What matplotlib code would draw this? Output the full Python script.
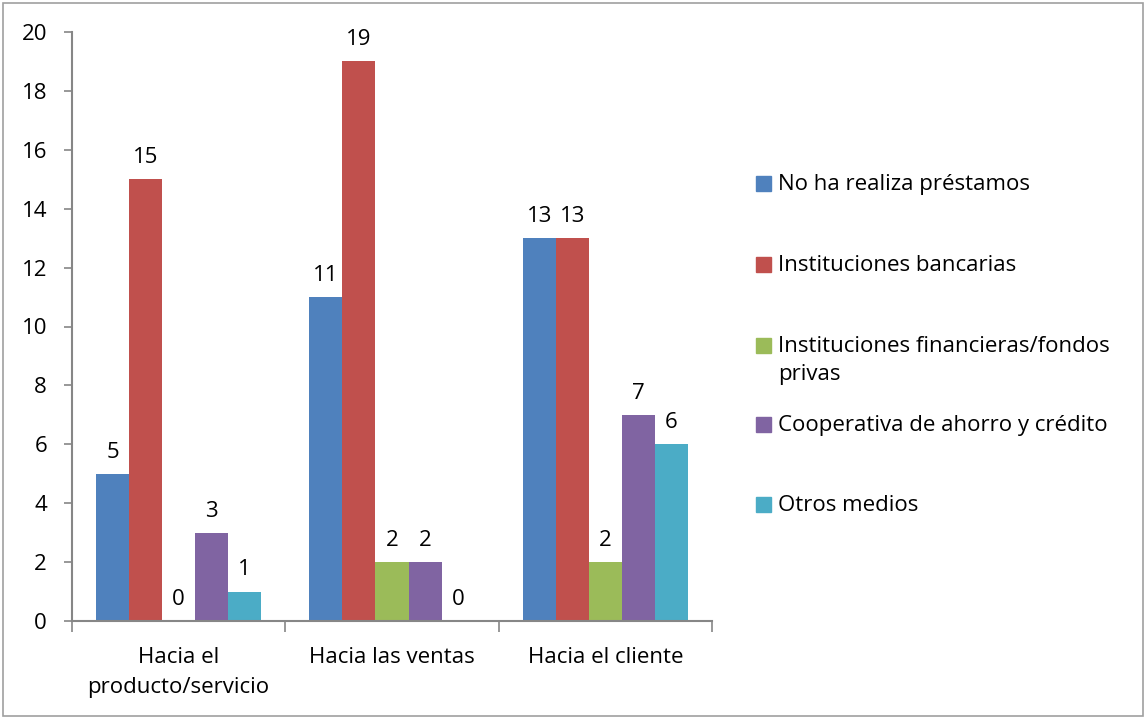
import matplotlib
matplotlib.use("Agg")
import matplotlib.pyplot as plt
from matplotlib.patches import Rectangle
import numpy as np

categories = ["Hacia el\nproducto/servicio", "Hacia las ventas", "Hacia el cliente"]
series_names = ["No ha realiza préstamos", "Instituciones bancarias",
                "Instituciones financieras/fondos\nprivas",
                "Cooperativa de ahorro y crédito", "Otros medios"]
values = [
    [5, 11, 13],
    [15, 19, 13],
    [0, 2, 2],
    [3, 2, 7],
    [1, 0, 6],
]
colors = ["#4F81BD", "#C0504D", "#9BBB59", "#8064A2", "#4BACC6"]
yticks = [0, 2, 4, 6, 8, 10, 12, 14, 16, 18, 20]

plt.rcParams['font.family'] = ['Open Sans', 'DejaVu Sans']
FS = 16

fig = plt.figure(figsize=(11.46, 7.19), dpi=100)
ax = fig.add_axes([72/1146, 1-621/719, 640/1146, 589/719])

n = len(series_names)
bw = 0.155
x = np.arange(len(categories))
for i, (name, vals, c) in enumerate(zip(series_names, values, colors)):
    pos = x + (i - (n-1)/2) * bw
    bars = ax.bar(pos, vals, width=bw, color=c, label=name)
    for xp, v in zip(pos, vals):
        ax.annotate(str(v), (xp, v), xytext=(0, 8), textcoords="offset points",
                    ha="center", va="bottom", fontsize=FS, color="black")

ax.set_xlim(-0.5, len(categories) - 0.5)
ax.set_ylim(0, 20)
ax.set_yticks(yticks)
ax.tick_params(axis='y', labelsize=FS, direction='out', length=6, color='#868686', width=1.2, pad=12)
ax.set_xticks(x)
ax.set_xticklabels(categories, fontsize=FS, linespacing=1.55)
ax.tick_params(axis='x', length=0, pad=19)
ax.set_xticks(np.arange(-0.5, len(categories)), minor=True)
ax.tick_params(axis='x', which='minor', direction='out', length=8, color='#868686', width=1.2)
for s in ['top', 'right']:
    ax.spines[s].set_visible(False)
for s in ['left', 'bottom']:
    ax.spines[s].set_color('#868686')
    ax.spines[s].set_linewidth(1.5)

# Legend drawn manually
leg_y = [184, 265, 346, 425, 505]
for name, c, yy in zip(series_names, colors, leg_y):
    fig.patches.append(Rectangle((756/1146, 1-(yy+7)/719), 15/1146, 15/719,
                                 transform=fig.transFigure, color=c, figure=fig))
    fig.text(778/1146, 1-(yy-10)/719, name, fontsize=FS, va='top', ha='left',
             linespacing=1.45)

# Outer border
fig.patches.append(Rectangle((3/1146, 3/719), 1140/1146, 713/719, transform=fig.transFigure,
                             fill=False, edgecolor='#A0A0A0', linewidth=1.2, figure=fig))

fig.savefig("out.png", dpi=100)
